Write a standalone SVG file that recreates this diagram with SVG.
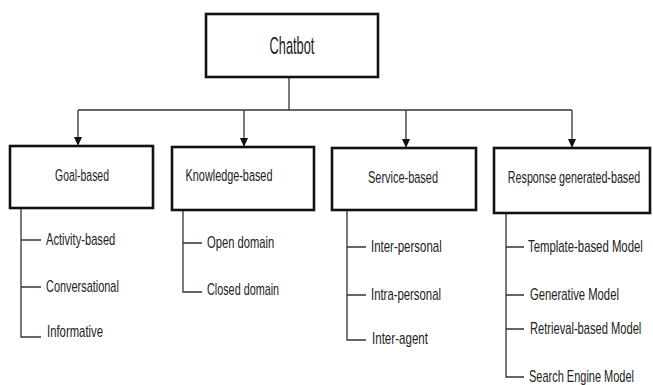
<svg xmlns="http://www.w3.org/2000/svg" width="653" height="385" viewBox="0 0 653 385">
<defs>
<style>
.box{fill:#fff;stroke:#111;stroke-width:2.6}
.ln{fill:none;stroke:#333;stroke-width:1.3}
.ah{fill:#111}
text{font-family:"Liberation Sans",Arial,sans-serif;fill:#222}
.hd{font-size:17px;text-anchor:middle}
.it{font-size:16px}
</style>
</defs>
<g id="connectors">
<line class="ln" x1="289" y1="77" x2="289" y2="110"/>
<line class="ln" x1="78" y1="110" x2="572" y2="110"/>
<line class="ln" x1="78" y1="110" x2="78" y2="140"/>
<line class="ln" x1="244" y1="110" x2="244" y2="141"/>
<line class="ln" x1="406" y1="110" x2="406" y2="142"/>
<line class="ln" x1="572" y1="110" x2="572" y2="142"/>
<path class="ah" d="M74,137 L82,137 L78,146 Z"/>
<path class="ah" d="M240,138 L248,138 L244,147 Z"/>
<path class="ah" d="M402,139 L410,139 L406,148 Z"/>
<path class="ah" d="M568,139 L576,139 L572,148 Z"/>
<path class="ln" d="M21,208 V337 H41 M21,240 H41 M21,287 H41"/>
<path class="ln" d="M183,210 V292 H202 M183,243 H202"/>
<path class="ln" d="M347,210 V340 H366 M347,247 H366 M347,295 H366"/>
<path class="ln" d="M506,213 V377 H524 M506,247 H524 M506,295 H524 M506,329 H524"/>
</g>
<g id="chatbot">
<rect class="box" x="206" y="14" width="172" height="63"/>
<text transform="translate(292,54) scale(0.7,1)" style="font-size:24px;text-anchor:middle" textLength="64" lengthAdjust="spacingAndGlyphs">Chatbot</text>
</g>
<g id="goal">
<rect class="box" x="10" y="146" width="143" height="62"/>
<text class="hd" transform="translate(82,181) scale(0.7,1)" textLength="77" lengthAdjust="spacingAndGlyphs">Goal-based</text>
</g>
<g id="knowledge">
<rect class="box" x="172" y="147" width="142" height="63"/>
<text class="hd" transform="translate(229,181) scale(0.7,1)" textLength="124" lengthAdjust="spacingAndGlyphs">Knowledge-based</text>
</g>
<g id="service">
<rect class="box" x="332" y="148" width="144" height="62"/>
<text class="hd" transform="translate(403,183) scale(0.7,1)" textLength="100" lengthAdjust="spacingAndGlyphs">Service-based</text>
</g>
<g id="response">
<rect class="box" x="494" y="148" width="156" height="65"/>
<text class="hd" transform="translate(574,183) scale(0.63,1)" textLength="210" lengthAdjust="spacingAndGlyphs">Response generated-based</text>
</g>
<g id="goal-items">
<text class="it" transform="translate(46,245) scale(0.7,1)" textLength="99" lengthAdjust="spacingAndGlyphs">Activity-based</text>
<text class="it" transform="translate(46,292) scale(0.7,1)" textLength="104" lengthAdjust="spacingAndGlyphs">Conversational</text>
<text class="it" transform="translate(47,337) scale(0.7,1)" textLength="80" lengthAdjust="spacingAndGlyphs">Informative</text>
</g>
<g id="knowledge-items">
<text class="it" transform="translate(207,248) scale(0.7,1)" textLength="96" lengthAdjust="spacingAndGlyphs">Open domain</text>
<text class="it" transform="translate(207,295) scale(0.7,1)" textLength="103" lengthAdjust="spacingAndGlyphs">Closed domain</text>
</g>
<g id="service-items">
<text class="it" transform="translate(371,252) scale(0.7,1)" textLength="101" lengthAdjust="spacingAndGlyphs">Inter-personal</text>
<text class="it" transform="translate(371,300) scale(0.7,1)" textLength="100" lengthAdjust="spacingAndGlyphs">Intra-personal</text>
<text class="it" transform="translate(372,344) scale(0.7,1)" textLength="80" lengthAdjust="spacingAndGlyphs">Inter-agent</text>
</g>
<g id="response-items">
<text class="it" transform="translate(528,252) scale(0.7,1)" textLength="164" lengthAdjust="spacingAndGlyphs">Template-based Model</text>
<text class="it" transform="translate(530,300) scale(0.7,1)" textLength="127" lengthAdjust="spacingAndGlyphs">Generative Model</text>
<text class="it" transform="translate(530,334) scale(0.7,1)" textLength="159" lengthAdjust="spacingAndGlyphs">Retrieval-based Model</text>
<text class="it" transform="translate(529,382) scale(0.7,1)" textLength="150" lengthAdjust="spacingAndGlyphs">Search Engine Model</text>
</g>
</svg>
